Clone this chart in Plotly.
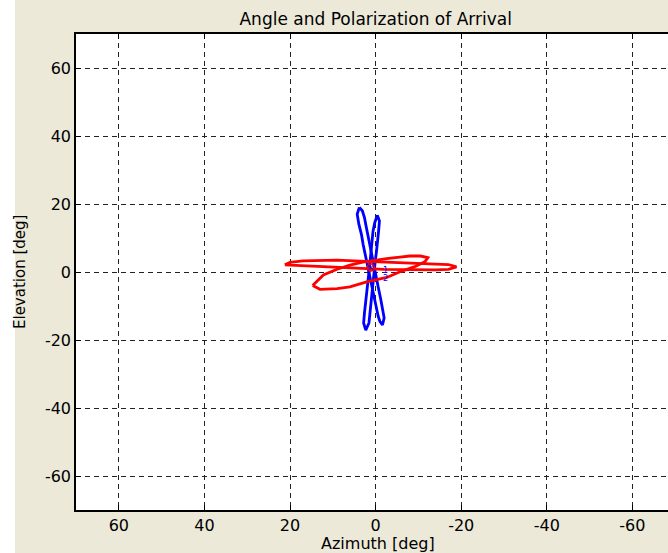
import plotly.graph_objects as go

# ---- data ----
title_text = "Angle and Polarization of Arrival"
x_label = "Azimuth [deg]"
y_label = "Elevation [deg]"
tick_vals = [-60, -40, -20, 0, 20, 40, 60]
tick_text = ["-60", "-40", "-20", "0", "20", "40", "60"]

# blue trace: two thin crossing loops (azimuth, elevation in deg)
blue_az = [3.8, 4.3, 3.9, 3.3, 2.9, 2.4, 1.9, 1.3, 0.9, 0.4, 0.1, -0.3, -0.6, -1.0, -1.6,
           -2.0, -1.7, -1.2, -0.7, -0.2, 0.3, 0.8, 1.2, 1.7, 2.0, 2.3, 2.6, 3.1, 3.8,
           None,
           -0.4, -0.9, -0.7, -0.5, -0.2, 0.1, 0.35, 0.6, 0.8, 1.05, 1.3, 1.55, 2.3,
           2.8, 2.6, 2.3, 2.0, 1.8, 1.55, 1.3, 1.05, 0.8, 0.6, 0.2, -0.4]
blue_el = [19.0, 17.0, 14.0, 11.0, 8.0, 5.0, 2.0, -1.0, -4.0, -7.0, -9.0, -11.0, -13.0, -14.5, -15.6,
           -13.5, -11.0, -8.0, -5.0, -2.0, 1.0, 4.0, 7.0, 10.0, 12.0, 14.0, 16.0, 18.0, 19.0,
           None,
           16.7, 15.0, 12.0, 9.0, 6.0, 3.0, 0.0, -3.0, -6.0, -9.0, -12.0, -15.0, -17.1,
           -15.0, -12.0, -9.0, -6.0, -3.0, 0.0, 3.0, 6.0, 9.0, 12.0, 14.5, 16.7]

# red trace: long thin loop plus tilted loop
red_az = [21.2, 20.0, 17.0, 13.0, 9.0, 5.0, 1.0, -3.0, -7.0, -11.0, -14.0, -17.0, -18.9,
          -17.0, -14.0, -10.0, -6.0, -2.0, 2.0, 6.0, 10.0, 14.0, 18.0, 21.2,
          None,
          14.7, 13.5, 12.2, 9.0, 6.0, 3.0, 0.0, -3.0, -5.7, -8.0, -10.5, -12.2,
          -11.5, -9.0, -6.0, -2.6, 0.0, 2.1, 6.0, 9.0, 13.0, 14.7]
red_el = [2.1, 2.8, 3.3, 3.4, 3.5, 3.3, 3.1, 3.0, 2.9, 2.7, 2.5, 2.2, 1.5,
          0.8, 0.6, 0.6, 0.7, 0.8, 1.0, 1.2, 1.5, 1.6, 1.9, 2.1,
          None,
          -4.0, -2.5, -0.9, 0.8, 2.0, 2.9, 3.5, 4.0, 4.4, 4.7, 4.7, 4.2,
          3.0, 1.5, 0.2, -1.6, -2.3, -2.9, -4.4, -4.9, -5.1, -4.0]

center_az = [1.1]
center_el = [1.3]
label_texts = ["1", "2"]
label_az = [-2.4, -2.4]
label_el = [0.4, -1.9]

FONT = "DejaVu Sans, Arial, sans-serif"
BEIGE = "#ECE9D8"

fig = go.Figure()
fig.add_trace(go.Scatter(x=blue_az, y=blue_el, mode="lines",
                         line=dict(color="#0000FF", width=2.8), showlegend=False))
fig.add_trace(go.Scatter(x=red_az, y=red_el, mode="lines",
                         line=dict(color="#FF0000", width=2.8), showlegend=False))
fig.add_trace(go.Scatter(x=center_az, y=center_el, mode="markers",
                         marker=dict(symbol="circle-open", size=7, color="#FF0000",
                                     line=dict(width=1.5)), showlegend=False))
fig.add_trace(go.Scatter(x=center_az, y=center_el, mode="markers",
                         marker=dict(symbol="x-thin-open", size=5, color="#0000FF",
                                     line=dict(width=1, color="#0000FF")), showlegend=False))

W, H = 668, 553
L, R, T, B = 76, 0, 34, 43
pw, ph = W - L - R, H - T - B

axis_common = dict(
    tickvals=tick_vals, ticktext=tick_text, showgrid=True, gridcolor="#222222", gridwidth=1,
    griddash="5px,4px", zeroline=False, showline=True, linecolor="black",
    linewidth=1.5, ticks="inside", ticklen=5, tickcolor="black",
    tickfont=dict(family=FONT, size=16, color="black"),
)
fig.update_xaxes(range=[70, 70 - pw / 4.28], mirror="ticks", **axis_common)
fig.update_yaxes(range=[-70, 70], mirror=False, **axis_common)

for t, a, e in zip(label_texts, label_az, label_el):
    fig.add_annotation(x=a, y=e, text=t, showarrow=False,
                       font=dict(family=FONT, size=8, color="#0000FF"))

fig.add_annotation(text=x_label, xref="paper", yref="paper",
                   x=(378 - L) / pw, y=-(543 - (H - B)) / ph, showarrow=False,
                   xanchor="center", yanchor="middle",
                   font=dict(family=FONT, size=16, color="black"))
fig.add_annotation(text=y_label, xref="paper", yref="paper", textangle=-90,
                   x=(20 - L) / pw, y=0.5, showarrow=False,
                   xanchor="center", yanchor="middle",
                   font=dict(family=FONT, size=15, color="black"))

# figure background: white strip on the left, beige elsewhere, white plot area
fig.add_shape(type="rect", xref="paper", yref="paper", layer="below",
              x0=(15 - L) / pw, x1=(W - L) / pw + 0.01, y0=-B / ph - 0.01, y1=1 + T / ph + 0.01,
              fillcolor=BEIGE, line=dict(width=0))
fig.add_shape(type="rect", xref="paper", yref="paper", layer="below",
              x0=0, x1=1, y0=0, y1=1, fillcolor="white", line=dict(width=0))

fig.update_layout(
    width=W, height=H, autosize=False,
    margin=dict(l=L, r=R, t=T, b=B, pad=0),
    paper_bgcolor="white", plot_bgcolor="white",
    title=dict(text=title_text, xref="container", yref="container",
               x=375.7 / W, y=1 - 19 / H, xanchor="center", yanchor="middle",
               font=dict(family=FONT, size=17, color="black")),
)

fig.write_html("out.html")
